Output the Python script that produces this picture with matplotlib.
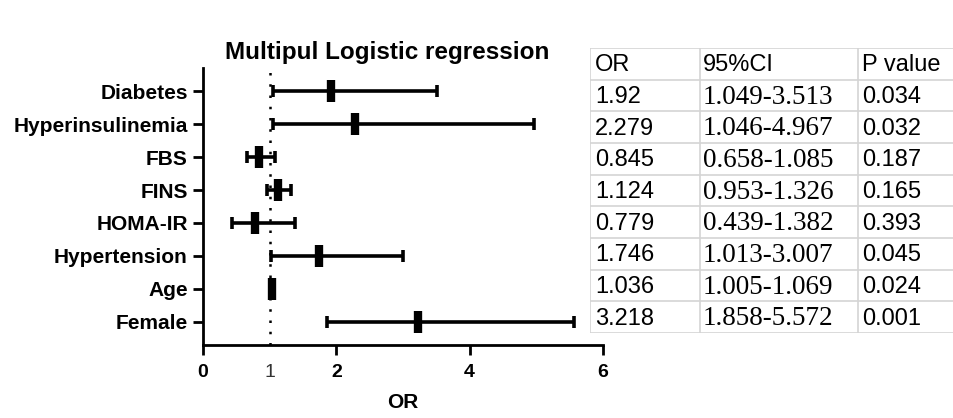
"""Forest plot for multivariable logistic regression with a side table."""

import matplotlib
matplotlib.use("Agg")
import matplotlib.pyplot as plt

plt.rcParams["font.family"] = "Liberation Sans"

# data, top row first
variables = ["Diabetes", "Hyperinsulinemia", "FBS", "FINS", "HOMA-IR",
             "Hypertension", "Age", "Female"]
odds_ratio = [1.92, 2.279, 0.845, 1.124, 0.779, 1.746, 1.036, 3.218]
ci_low = [1.049, 1.046, 0.658, 0.953, 0.439, 1.013, 1.005, 1.858]
ci_high = [3.513, 4.967, 1.085, 1.326, 1.382, 3.007, 1.069, 5.572]
p_values = ["0.034", "0.032", "0.187", "0.165", "0.393", "0.045", "0.024", "0.001"]
or_text = ["1.92", "2.279", "0.845", "1.124", "0.779", "1.746", "1.036", "3.218"]
table_header = ["OR", "95%CI", "P value"]

W, H = 954, 418
fig = plt.figure(figsize=(W / 100, H / 100), dpi=100)

# forest plot
ax = fig.add_axes([203 / W, 1 - 345 / H, 400 / W, 277 / H])
n = len(variables)
ypos = list(range(n, 0, -1))
err = [[o - lo for o, lo in zip(odds_ratio, ci_low)],
       [hi - o for o, hi in zip(odds_ratio, ci_high)]]
ax.errorbar(odds_ratio, ypos, xerr=err, fmt="none", ecolor="black",
            elinewidth=2.6, capsize=4.5, capthick=2.6)
ax.plot(odds_ratio, ypos, linestyle="none", marker="|", color="black",
        markersize=16, markeredgewidth=6)
ax.axvline(1, color="black", linestyle=(0, (1, 3.5)), linewidth=1.8)

ax.set_xlim(0, 6)
ax.set_ylim(0.3, n + 0.7)
ax.set_xticks([0, 2, 4, 6])
ax.set_xticks([1], labels=["1"], minor=True)
ax.set_yticks(ypos)
ax.set_yticklabels(variables)
for lab in ax.get_xticklabels() + ax.get_yticklabels():
    lab.set_fontweight("bold")
for lab in ax.get_xticklabels():
    lab.set_fontsize(14)
for lab in ax.get_yticklabels():
    lab.set_fontsize(15)
for lab in ax.get_xticklabels(minor=True):
    lab.set_fontsize(14)
    lab.set_color("#333333")
ax.tick_params(axis="both", width=2, length=7, color="black")
ax.tick_params(axis="x", which="major", pad=7)
ax.tick_params(axis="x", which="minor", length=0, pad=14)
ax.tick_params(axis="y", pad=4)
for side in ["top", "right"]:
    ax.spines[side].set_visible(False)
for side in ["left", "bottom"]:
    ax.spines[side].set_linewidth(2)
ax.set_xlabel("OR", fontsize=15, fontweight="bold", labelpad=8)
fig.text(387 / W, 1 - 53 / H, "Multipul Logistic regression", ha="center",
         va="center", fontsize=17.5, fontweight="bold")

# table on the right
tx = fig.add_axes([590 / W, 1 - 333 / H, 370 / W, 285 / H])
tx.set_xlim(0, 370)
tx.set_ylim(n + 1, 0)
tx.axis("off")
line_c = "#d4d4d4"
for r in range(n + 2):
    tx.axhline(r, color=line_c, linewidth=1.2)
for c in [0, 110, 268]:
    tx.axvline(c, color=line_c, linewidth=1.2)

col_x = [5, 113, 272]
for c, h in enumerate(table_header):
    tx.text(col_x[c], 0.55, h, va="center", ha="left", fontsize=17)
for i in range(n):
    y = i + 1.55
    tx.text(col_x[0], y, or_text[i], va="center", ha="left", fontsize=17)
    tx.text(col_x[1], y, f"{ci_low[i]:.3f}-{ci_high[i]:.3f}", va="center",
            ha="left", fontsize=19.5, family="Liberation Serif")
    tx.text(col_x[2], y, p_values[i], va="center", ha="left", fontsize=17)

fig.savefig("out.png", dpi=100)
